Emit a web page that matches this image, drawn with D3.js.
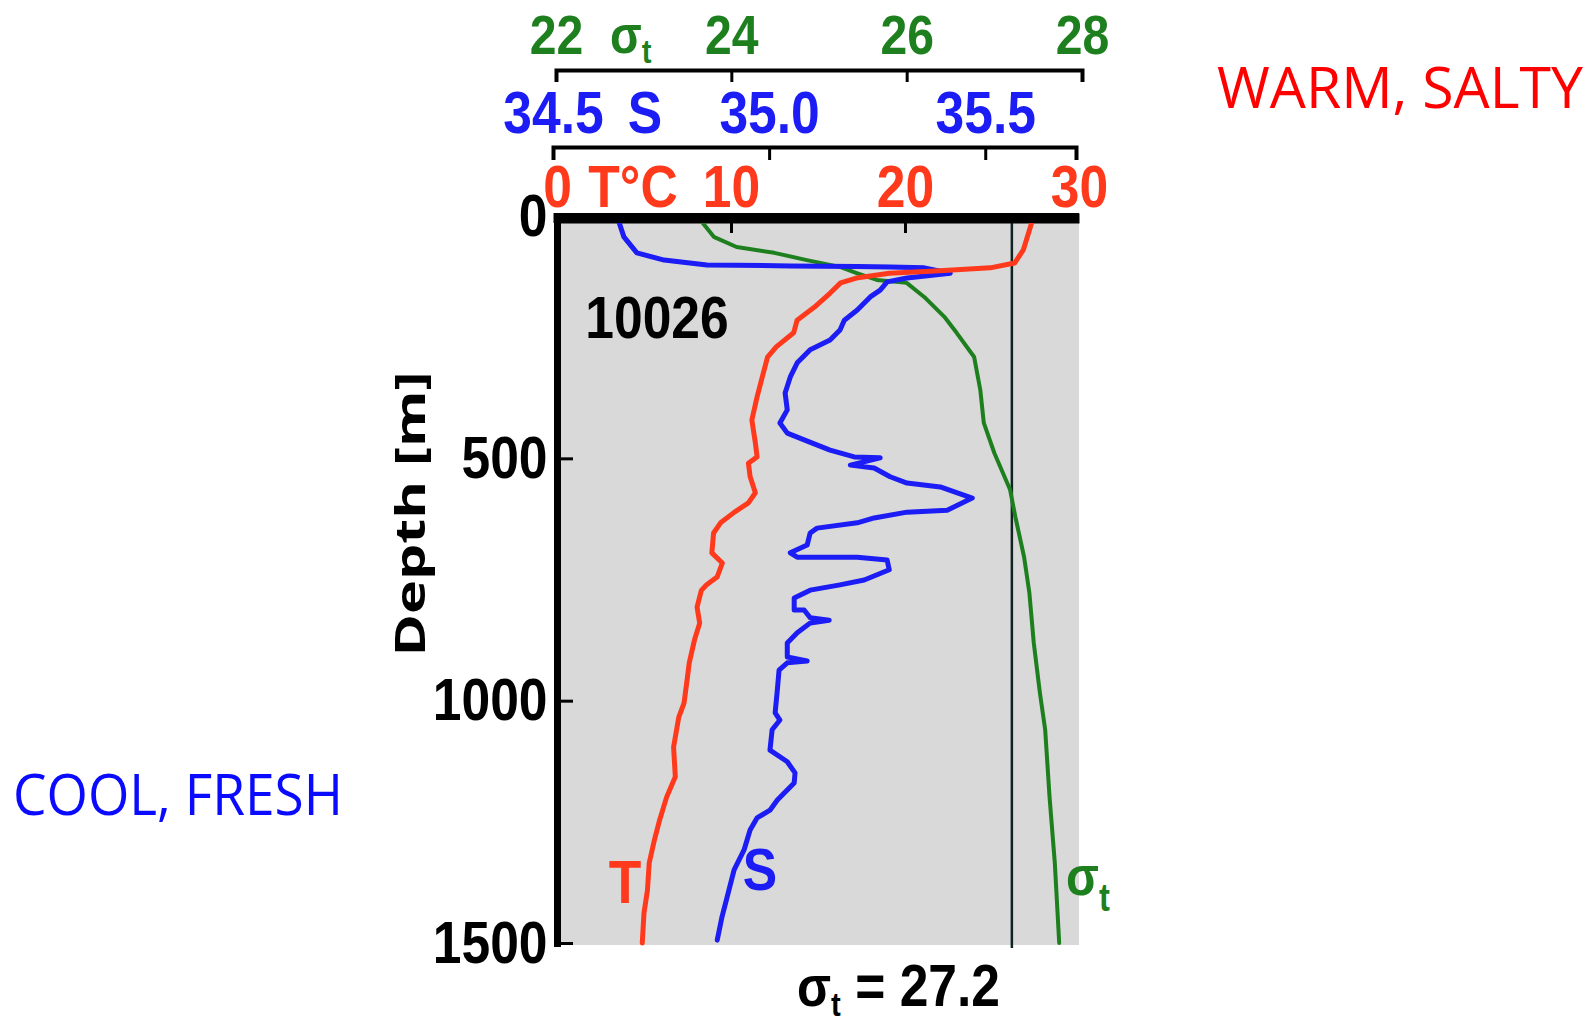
<!DOCTYPE html>
<html lang="en">
<head>
<meta charset="UTF-8">
<title>Station 10026 - T, S and sigma-t profiles</title>
<script src="https://d3js.org/d3.v7.min.js"></script>
<style>
  body { margin: 0; background: #fff; }
  text { font-family: "Liberation Sans", Arial, sans-serif; font-weight: bold; }
</style>
</head>
<body>
<script>
var tDepth = [0, 70, 97, 107, 113, 118, 128, 138, 159, 188, 215, 241, 270, 291, 332, 373, 421, 468, 497, 510,
  538, 571, 592, 611, 633, 654, 695, 716, 745, 761, 772, 807, 840, 875, 922, 951, 1005, 1034, 1096, 1157,
  1199, 1246, 1287, 1335, 1391, 1438, 1500];
var tempC = [27.4, 26.8, 26.3, 24.9, 22.0, 19.1, 17.2, 16.3, 15.7, 14.8, 13.8, 13.6, 12.6, 12.1, 11.8, 11.5, 11.2, 11.4, 11.5, 11.0,
  11.1, 11.4, 11.0, 10.2, 9.4, 9.0, 8.9, 9.5, 9.2, 8.6, 8.3, 8.05, 8.2, 7.9, 7.6, 7.5, 7.3, 7.0, 6.7, 6.8,
  6.3, 5.9, 5.6, 5.3, 5.2, 5.0, 4.9];

var sDepth = [0, 43, 76, 91, 101, 103, 104, 105, 107, 118, 128, 136, 153, 167, 194, 215, 235, 256, 276, 303,
  332, 365, 400, 427, 448, 462, 483, 497, 499, 514, 520, 538, 551, 559, 582, 607, 611, 623, 633, 644,
  654, 679, 695, 704, 704, 710, 730, 751, 761, 772, 788, 813, 813, 829, 834, 840, 860, 881, 910, 918,
  922, 937, 978, 1025, 1040, 1060, 1102, 1126, 1149, 1170, 1205, 1226, 1242, 1267, 1308, 1349, 1405, 1446, 1494];
var salinity = [34.648, 34.664, 34.694, 34.757, 34.856, 35.049, 35.204, 35.280, 35.359, 35.419, 35.319, 35.273, 35.257, 35.234, 35.204, 35.174, 35.164, 35.141, 35.095, 35.065,
  35.049, 35.037, 35.042, 35.025, 35.042, 35.081, 35.141, 35.197, 35.257, 35.188, 35.243, 35.280, 35.319, 35.396, 35.470, 35.412, 35.319, 35.243, 35.204, 35.111,
  35.095, 35.088, 35.049, 35.065, 35.204, 35.273, 35.278, 35.220, 35.164, 35.095, 35.058, 35.058, 35.081, 35.095, 35.139, 35.095, 35.065, 35.042, 35.042, 35.088,
  35.042, 35.023, 35.019, 35.014, 35.025, 35.007, 35.002, 35.042, 35.060, 35.058, 35.019, 35.002, 34.972, 34.956, 34.942, 34.919, 34.903, 34.891, 34.880];

var sigDepth = [0, 43, 64, 76, 91, 105, 118, 132, 138, 167, 208, 241, 291, 359, 427, 489, 565, 621, 704, 778,
  881, 984, 1060, 1199, 1335, 1500];
var sigmaT = [23.61, 23.80, 24.06, 24.49, 24.86, 25.24, 25.43, 25.66, 26.00, 26.20, 26.43, 26.57, 26.77, 26.84, 26.88, 27.00, 27.18, 27.24, 27.34, 27.40,
  27.45, 27.52, 27.58, 27.63, 27.69, 27.74];

var depthTicks = [0, 500, 1000, 1500];
var tempTicks = [0, 10, 20, 30];
var salTicks = [34.5, 35.0, 35.5];
var sigmaTicks = [22, 24, 26, 28];
var refSigma = 27.2;

var red = "#ff3a1c", blue = "#1c1cf5", green = "#1d7f1d";

var w = 1593, h = 1027;
var svg = d3.select("body").append("svg")
  .attr("width", w)
  .attr("height", h);

// scales
var y = d3.scaleLinear().domain([0, 1500]).range([216, 943]);
var xT = d3.scaleLinear().domain([0, 30]).range([557, 1079]);
var xS = d3.scaleLinear().domain([34.5, 35.71]).range([553, 1076]);
var xSig = d3.scaleLinear().domain([22, 28]).range([556, 1082]);

// grey plot area
svg.append("rect")
  .attr("x", xT(0))
  .attr("y", 218)
  .attr("width", xT(30) - xT(0))
  .attr("height", y(1500) + 2 - 218)
  .attr("fill", "#d9d9d9");

// sigma-t = 27.2 reference line
svg.append("line")
  .attr("x1", xSig(refSigma)).attr("x2", xSig(refSigma))
  .attr("y1", 218).attr("y2", 948)
  .attr("stroke", "#102222")
  .attr("stroke-width", 2.5);

// styles axis text like the scanned figure
function styleAxis(g, color, width, size) {
  g.select(".domain").attr("stroke", "#000").attr("stroke-width", width);
  g.selectAll(".tick line").attr("stroke", "#000").attr("stroke-width", 3);
  g.selectAll(".tick text")
    .attr("fill", color)
    .attr("transform", "scale(0.86,1)")
    .style("font-size", (size || 60) + "px")
    .style("font-family", "'Liberation Sans', Arial, sans-serif")
    .style("font-weight", "bold");
}

// depth axis
var gy = svg.append("g")
  .attr("transform", "translate(557,0)")
  .call(d3.axisLeft(y).tickValues(depthTicks).tickFormat(d3.format("d"))
    .tickSizeInner(-16).tickSizeOuter(0).tickPadding(11));
styleAxis(gy, "#000", 7);
gy.select(".domain").attr("stroke-linecap", "square");

// temperature axis (top of the plot)
var gT = svg.append("g")
  .attr("transform", "translate(0,218)")
  .call(d3.axisTop(xT).tickValues(tempTicks).tickFormat(d3.format("d"))
    .tickSizeInner(-15).tickSizeOuter(0).tickPadding(11));
styleAxis(gT, red, 10);
gT.selectAll(".tick line").filter(function(d) { return d === 0 || d === 30; }).remove();

// salinity axis
var gS = svg.append("g")
  .attr("transform", "translate(0,147)")
  .call(d3.axisTop(xS).tickValues(salTicks).tickFormat(d3.format(".1f"))
    .tickSizeInner(-13).tickSizeOuter(-13).tickPadding(14));
styleAxis(gS, blue, 4);

// sigma-t axis
var gSig = svg.append("g")
  .attr("transform", "translate(0,70)")
  .call(d3.axisTop(xSig).tickValues(sigmaTicks).tickFormat(d3.format("d"))
    .tickSizeInner(-12).tickSizeOuter(-12).tickPadding(16));
styleAxis(gSig, green, 4, 56);

// profiles
function profile(depths, values, xs, color, width) {
  var pts = depths.map(function(d, i) { return [d, values[i]]; });
  svg.append("path")
    .datum(pts)
    .attr("fill", "none")
    .attr("stroke", color)
    .attr("stroke-width", width)
    .attr("stroke-linejoin", "round")
    .attr("stroke-linecap", "round")
    .attr("d", d3.line()
      .x(function(p) { return xs(p[1]); })
      .y(function(p) { return y(p[0]); }));
}
profile(sigDepth, sigmaT, xSig, green, 4);
profile(sDepth, salinity, xS, blue, 5);
profile(tDepth, tempC, xT, red, 5);

// redraw top border over the curve ends
svg.append("line")
  .attr("x1", xT(0) - 3.5).attr("x2", xT(30))
  .attr("y1", 218).attr("y2", 218)
  .attr("stroke", "#000").attr("stroke-width", 10);

// text labels
function label(x, yy, str, color, size, anchor) {
  return svg.append("text")
    .attr("transform", "translate(" + x + "," + yy + ") scale(0.86,1)")
    .attr("text-anchor", anchor || "middle")
    .attr("fill", color)
    .style("font-size", size + "px")
    .text(str);
}
function sigmaLabel(x, yy, color, size, subSize, subDy) {
  var t = svg.append("text")
    .attr("transform", "translate(" + x + "," + yy + ") scale(0.86,1)")
    .attr("fill", color);
  t.append("tspan").style("font-size", size + "px").text("σ");
  t.append("tspan").style("font-size", subSize + "px").attr("dy", subDy).text("t");
  return t;
}

label(633, 207, "T°C", red, 60);
label(645, 133, "S", blue, 60);
sigmaLabel(610, 53, green, 54, 34, 10);

label(657, 338, "10026", "#000", 60);
label(625, 903, "T", red, 62);
label(760, 890, "S", blue, 60);
sigmaLabel(1066, 895, green, 56, 38, 16);

var bottom = sigmaLabel(797, 1006, "#000", 58, 34, 10);
bottom.append("tspan").style("font-size", "60px").attr("dy", -10).text(" = " + refSigma.toFixed(1));

svg.append("text")
  .attr("transform", "translate(425,514) rotate(-90)")
  .attr("text-anchor", "middle")
  .attr("textLength", 285)
  .attr("lengthAdjust", "spacingAndGlyphs")
  .style("font-family", "'Open Sans', sans-serif")
  .style("font-size", "42px")
  .style("font-weight", "bold")
  .text("Depth [m]");

svg.append("text")
  .attr("x", 1217).attr("y", 108)
  .attr("textLength", 366)
  .attr("lengthAdjust", "spacingAndGlyphs")
  .attr("fill", "#ff0000")
  .style("font-family", "'Open Sans', sans-serif")
  .style("font-weight", "normal")
  .style("font-size", "56px")
  .text("WARM, SALTY");

svg.append("text")
  .attr("x", 13).attr("y", 815)
  .attr("textLength", 330)
  .attr("lengthAdjust", "spacingAndGlyphs")
  .attr("fill", "#0a0aff")
  .style("font-family", "'Open Sans', sans-serif")
  .style("font-weight", "normal")
  .style("font-size", "56px")
  .text("COOL, FRESH");
</script>
</body>
</html>
